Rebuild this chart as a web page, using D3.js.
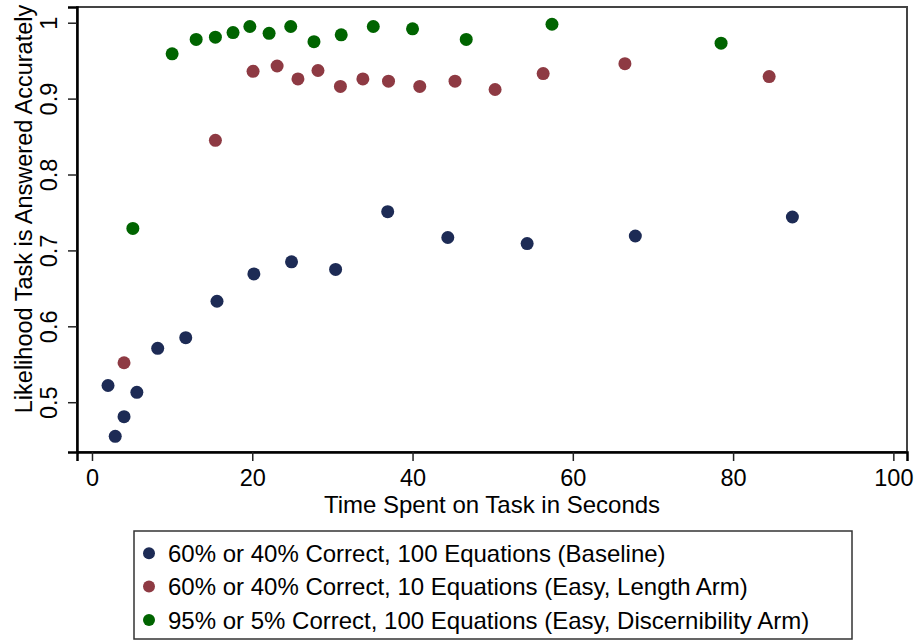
<!DOCTYPE html>
<html>
<head>
<meta charset="utf-8">
<script src="https://cdn.jsdelivr.net/npm/d3@7"></script>
<style>
  body { margin: 0; background: #fff; }
  svg { display: block; font-family: "Liberation Sans", Arial, Helvetica, sans-serif; }
</style>
</head>
<body>
<div id="chart"></div>
<script>
// values
var baselineX = [2.9, 4.0, 2.0, 5.6, 8.2, 11.7, 15.6, 20.2, 24.9, 30.4, 36.9, 44.4, 54.3, 67.8, 87.4];
var baselineY = [0.455, 0.481, 0.522, 0.513, 0.571, 0.585, 0.633, 0.669, 0.685, 0.675, 0.751, 0.717, 0.709, 0.719, 0.744];

var lengthX = [4.0, 15.4, 20.1, 23.1, 25.7, 28.2, 31.0, 33.8, 37.0, 40.9, 45.3, 50.3, 56.3, 66.5, 84.5];
var lengthY = [0.552, 0.845, 0.936, 0.943, 0.926, 0.937, 0.916, 0.926, 0.923, 0.916, 0.923, 0.912, 0.933, 0.946, 0.929];

var discernX = [5.1, 10.0, 13.0, 15.4, 17.6, 19.7, 22.1, 24.8, 27.7, 31.1, 35.1, 40.0, 46.7, 57.4, 78.5];
var discernY = [0.729, 0.959, 0.978, 0.981, 0.987, 0.995, 0.986, 0.995, 0.975, 0.984, 0.995, 0.992, 0.978, 0.998, 0.973];

var seriesNames = [
    "60% or 40% Correct, 100 Equations (Baseline)",
    "60% or 40% Correct, 10 Equations (Easy, Length Arm)",
    "95% or 5% Correct, 100 Equations (Easy, Discernibility Arm)"
];
var seriesColors = ["#1d2b55", "#8e3a43", "#006400"];

var xTicks = [0, 20, 40, 60, 80, 100];
var yTicks = [0.5, 0.6, 0.7, 0.8, 0.9, 1];

var width = 917, height = 641,
    plotLeft = 77, plotRight = 907, plotTop = 7, plotBottom = 452;

var svg = d3.select("#chart").append("svg")
    .attr("width", width)
    .attr("height", height);

var x = d3.scaleLinear().domain([-1.87, 101.7]).range([plotLeft, plotRight]);
var y = d3.scaleLinear().domain([0.4344, 1.0207]).range([plotBottom, plotTop]);

// plot frame
svg.append("rect")
    .attr("x", plotLeft).attr("y", plotTop)
    .attr("width", plotRight - plotLeft).attr("height", plotBottom - plotTop)
    .attr("fill", "none").attr("stroke", "#444").attr("stroke-width", 2);

var xAxis = svg.append("g")
    .attr("transform", "translate(0," + plotBottom + ")")
    .call(d3.axisBottom(x).tickValues(xTicks).tickSize(9).tickPadding(8).tickFormat(d3.format("d")));
xAxis.select(".domain").attr("stroke", "#000").attr("stroke-width", 2.5);
xAxis.selectAll(".tick line").attr("stroke", "#222").attr("stroke-width", 1.5);
xAxis.selectAll(".tick text").attr("font-size", 23.5).attr("fill", "#000");

var yAxis = svg.append("g")
    .attr("transform", "translate(" + plotLeft + ",0)")
    .call(d3.axisLeft(y).tickValues(yTicks).tickSize(9).tickFormat(function (d) { return d === 1 ? "1" : d3.format(".1f")(d); }));
yAxis.select(".domain").attr("stroke", "#000").attr("stroke-width", 2.5);
yAxis.selectAll(".tick line").attr("stroke", "#222").attr("stroke-width", 1.5);
// stata style: tick labels turned on their side
yAxis.selectAll(".tick text")
    .attr("font-size", 23.5).attr("fill", "#000")
    .attr("x", null).attr("dy", null)
    .attr("text-anchor", "middle")
    .attr("transform", "translate(-20,0) rotate(-90)");

svg.append("text")
    .attr("x", 492)
    .attr("y", 512.5)
    .attr("text-anchor", "middle")
    .attr("font-size", 24)
    .text("Time Spent on Task in Seconds");

svg.append("text")
    .attr("transform", "translate(32,209) rotate(-90)")
    .attr("text-anchor", "middle")
    .attr("font-size", 23.5)
    .text("Likelihood Task is Answered Accurately");

var series = [
    { xs: baselineX, ys: baselineY },
    { xs: lengthX, ys: lengthY },
    { xs: discernX, ys: discernY }
];

series.forEach(function (s, i) {
    svg.append("g").selectAll("circle")
        .data(d3.range(s.xs.length))
        .enter().append("circle")
        .attr("cx", function (j) { return x(s.xs[j]); })
        .attr("cy", function (j) { return y(s.ys[j]); })
        .attr("r", 6.5)
        .attr("fill", seriesColors[i]);
});

// legend
var legend = svg.append("g");
legend.append("rect")
    .attr("x", 134).attr("y", 531)
    .attr("width", 718).attr("height", 108)
    .attr("fill", "none").attr("stroke", "#333").attr("stroke-width", 1.5);

var rows = legend.selectAll("g.row")
    .data(seriesNames)
    .enter().append("g")
    .attr("class", "row")
    .attr("transform", function (d, i) { return "translate(149," + (553.3 + i * 33.3) + ")"; });

rows.append("circle")
    .attr("r", 6)
    .attr("fill", function (d, i) { return seriesColors[i]; });

rows.append("text")
    .attr("x", 19)
    .attr("dy", "0.36em")
    .attr("font-size", 24)
    .text(function (d) { return d; });
</script>
</body>
</html>
